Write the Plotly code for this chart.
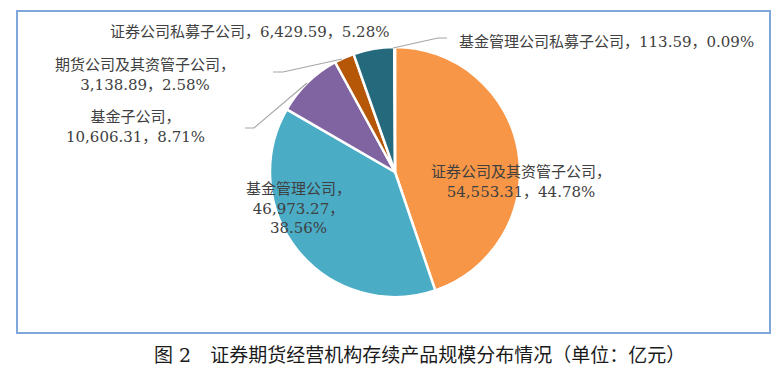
import plotly.graph_objects as go

W, H = 777, 373

categories = ["证券公司及其资管子公司", "基金管理公司", "基金子公司",
              "期货公司及其资管子公司", "证券公司私募子公司", "基金管理公司私募子公司"]
values = [54553.31, 46973.27, 10606.31, 3138.89, 6429.59, 113.59]
value_labels = ["54,553.31", "46,973.27", "10,606.31", "3,138.89", "6,429.59", "113.59"]
pct_labels = ["44.78%", "38.56%", "8.71%", "2.58%", "5.28%", "0.09%"]
colors = ["#F79646", "#4BACC6", "#8064A2", "#B65708", "#246A7C", "#8FB6C4"]
title = "图 2　证券期货经营机构存续产品规模分布情况（单位：亿元）"

FONT = "DejaVu Serif, Noto Sans CJK SC, sans-serif"
TXT = "#404040"

def px(x):
    return x / W

def py(y):
    return 1 - y / H

cx, cy, r = 395, 172, 125

fig = go.Figure(go.Pie(
    labels=categories, values=values, sort=False, direction="clockwise",
    rotation=0, marker=dict(colors=colors, line=dict(color="white", width=2.5)),
    textinfo="none", hoverinfo="label+value+percent", showlegend=False,
    domain=dict(x=[px(cx - r), px(cx + r)], y=[py(cy + r), py(cy - r)]),
))

label_text = [
    f"{categories[0]}，<br>{value_labels[0]}，{pct_labels[0]}",
    f"{categories[1]}，<br>{value_labels[1]}，<br>{pct_labels[1]}",
    f"{categories[2]}，<br>{value_labels[2]}，{pct_labels[2]}",
    f"{categories[3]}，<br>{value_labels[3]}，{pct_labels[3]}",
    f"{categories[4]}，{value_labels[4]}，{pct_labels[4]}",
    f"{categories[5]}，{value_labels[5]}，{pct_labels[5]}",
]
label_pos = [(521, 182), (298, 208), (135, 127), (145, 75), (249, 32), (606, 42)]

annotations = []
for t, (x, y) in zip(label_text, label_pos):
    annotations.append(dict(text=t, x=px(x), y=py(y), xref="paper", yref="paper",
                            showarrow=False, xanchor="center", yanchor="middle",
                            align="center", font=dict(family=FONT, size=15, color=TXT)))
annotations.append(dict(text=title, x=px(419), y=py(355), xref="paper", yref="paper",
                        showarrow=False, xanchor="center", yanchor="middle",
                        font=dict(family=FONT, size=19, color="#1a1a1a")))

leaders = [
    [(273, 72), (283, 72), (342, 59)],
    [(245, 128), (254, 128), (307, 83)],
    [(393, 48), (438, 38), (447, 38)],
]
shapes = []
for pts in leaders:
    path = "M " + " L ".join(f"{px(x)},{py(y)}" for x, y in pts)
    shapes.append(dict(type="path", path=path, xref="paper", yref="paper",
                       line=dict(color="#A6A6A6", width=1.2)))
shapes.append(dict(type="rect", xref="paper", yref="paper",
                   x0=px(17), x1=px(770), y0=py(333), y1=py(11),
                   line=dict(color="#7FA7DC", width=2)))

fig.update_layout(width=W, height=H, margin=dict(l=0, r=0, t=0, b=0),
                  paper_bgcolor="white", plot_bgcolor="white",
                  annotations=annotations, shapes=shapes)
fig.write_html("out.html", config={"displayModeBar": False},
               post_script="document.body.style.margin='0';document.body.style.overflow='hidden';")
